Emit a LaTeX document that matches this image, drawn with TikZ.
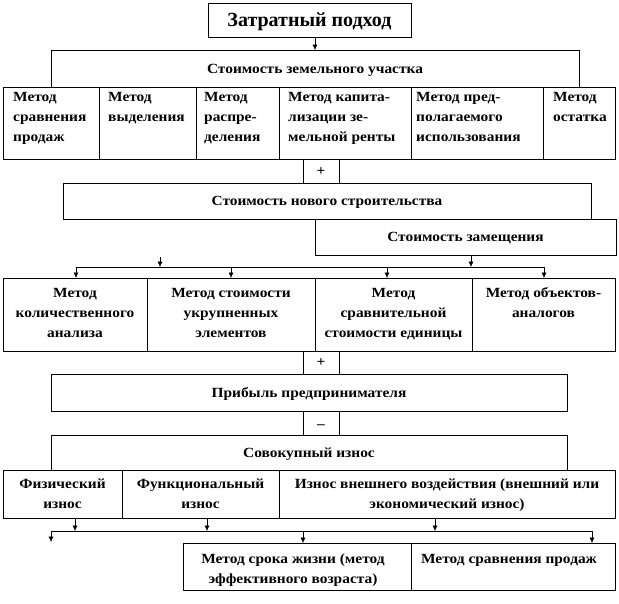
\documentclass[tikz,border=0pt]{standalone}
\usepackage{fontspec}
\setmainfont{Liberation Serif}[FakeStretch=1.1]
\newfontfamily\titlefam{Liberation Serif}
\usetikzlibrary{arrows.meta,calc}
\newcommand{\fs}{\fontsize{14}{20}\selectfont\bfseries}
\newcommand{\ftitle}{\titlefam\fontsize{20}{24}\selectfont\bfseries}
\newcommand{\fsign}{\fontsize{14}{16}\selectfont\bfseries}
\newcommand{\st}{\rule{0pt}{14pt}}
\begin{document}
\begin{tikzpicture}[x=1pt,y=-1pt,
  box/.style={draw, line width=0.6pt, inner sep=0pt, outer sep=0pt, anchor=north west},
  one/.style={font=\fs, text height=9.5pt, text depth=0pt},
  txt/.style={font=\fs, inner sep=0pt},
  arr/.style={-{Latex[length=5.5pt,width=5pt]}, line width=0.5pt},
  ln/.style={line width=0.5pt}]
\useasboundingbox (0,0) rectangle (619,603);

% top
\node[box, minimum width=203pt, minimum height=34pt, font=\ftitle, text height=13pt, text depth=0pt] (title) at (208,3) {Затратный подход};
\node[box, one, minimum width=528pt, minimum height=37pt] (land) at (51,50) {Стоимость земельного участка};

% row 1
\node[box, minimum width=96pt,  minimum height=72pt] (c1) at (3,87) {};
\node[box, minimum width=97pt,  minimum height=72pt] (c2) at (99,87) {};
\node[box, minimum width=83pt,  minimum height=72pt] (c3) at (196,87) {};
\node[box, minimum width=132pt, minimum height=72pt] (c4) at (279,87) {};
\node[box, minimum width=132pt, minimum height=72pt] (c5) at (411,87) {};
\node[box, minimum width=72pt,  minimum height=72pt] (c6) at (543,87) {};
\node[txt, anchor=north west, align=left] (t1) at ($(c1.north west)+(10,0)$) {\st Метод\\сравнения\\продаж};
\node[txt, anchor=north west, align=left] (t2) at ($(c2.north west)+(9,0)$) {\st Метод\\выделения};
\node[txt, anchor=north west, align=left] (t3) at ($(c3.north west)+(8,0)$) {\st Метод\\распре-\\деления};
\node[txt, anchor=north west, align=left] (t4) at ($(c4.north west)+(9,0)$) {\st Метод капита-\\лизации зе-\\мельной ренты};
\node[txt, anchor=north west, align=left] (t5) at ($(c5.north west)+(5,0)$) {\st Метод пред-\\полагаемого\\использования};
\node[txt, anchor=north west, align=left] (t6) at ($(c6.north west)+(10,0)$) {\st Метод\\остатка};

% plus 1
\node[box, minimum width=36pt, minimum height=24pt, font=\fsign, text height=8pt, text depth=0pt] (p1) at (303,159) {+};
\node[box, one, minimum width=528pt, minimum height=36pt] (newc) at (63,183) {Стоимость нового строительства};
\node[box, one, minimum width=301pt, minimum height=36pt] (repl) at (315,219) {Стоимость замещения};

% row 2
\node[box, minimum width=144pt, minimum height=73pt] (d1) at (3,278) {};
\node[box, minimum width=168pt, minimum height=73pt] (d2) at (147,278) {};
\node[box, minimum width=157pt, minimum height=73pt] (d3) at (315,278) {};
\node[box, minimum width=143pt, minimum height=73pt] (d4) at (472,278) {};
\node[txt, anchor=north, align=center] (u1) at ($(d1.north)+(0,5)$) {\st Метод\\количественного\\анализа};
\node[txt, anchor=north, align=center] (u2) at ($(d2.north)+(0,5)$) {\st Метод стоимости\\укрупненных\\элементов};
\node[txt, anchor=north, align=center] (u3) at ($(d3.north)+(0,5)$) {\st Метод\\сравнительной\\стоимости единицы};
\node[txt, anchor=north, align=center] (u4) at ($(d4.north)+(0,5)$) {\st Метод объектов-\\аналогов};

% plus 2, minus
\node[box, minimum width=36pt, minimum height=23pt, font=\fsign, text height=8pt, text depth=0pt] (p2) at (303,351) {+};
\node[box, one, minimum width=516pt, minimum height=37pt] (profit) at (51,374) {Прибыль предпринимателя};
\node[box, minimum width=36pt, minimum height=24pt, font=\fsign, text height=10pt, text depth=0pt] (m1) at (303,411) {–};
\node[box, one, minimum width=516pt, minimum height=35pt] (total) at (51,435) {Совокупный износ};

% wear row
\node[box, minimum width=119pt, minimum height=48pt] (w1) at (3,470) {};
\node[box, minimum width=157pt, minimum height=48pt] (w2) at (122,470) {};
\node[box, minimum width=336pt, minimum height=48pt] (w3) at (279,470) {};
\node[txt, anchor=north, align=center] (v1) at ($(w1.north)+(0,4)$) {\st Физический\\износ};
\node[txt, anchor=north, align=center] (v2) at ($(w2.north)+(0,4)$) {\st Функциональный\\износ};
\node[txt, anchor=north, align=center] (v3) at ($(w3.north)+(0,4)$) {\st Износ внешнего воздействия (внешний или\\экономический износ)};

% bottom row
\node[box, minimum width=228pt, minimum height=47pt] (b1) at (183,543) {};
\node[box, minimum width=204pt, minimum height=47pt] (b2) at (411,543) {};
\node[txt, anchor=north, align=center] (s1) at ($(b1.north)+(-4,6)$) {\st Метод срока жизни (метод\\эффективного возраста)};
\node[txt, anchor=north, align=center] (s2) at ($(b2.north)+(-4,6)$) {\st Метод сравнения продаж};

% connectors
\draw[arr] (land.north |- title.south) -- (land.north);

\coordinate (f1) at (160,257);
\coordinate (busL) at (76,267);
\coordinate (busR) at (544,267);
\coordinate (xr) at (471,0);
\coordinate (x2) at (231,0);
\coordinate (x3) at (387,0);
\draw[ln] (busL) -- (busR);
\draw[arr] (f1) -- (f1 |- busL);
\draw[arr] (xr |- repl.south) -- (xr |- busL);
\draw[arr] (busL) -- (busL |- d1.north);
\draw[arr] (x2 |- busL) -- (x2 |- d2.north);
\draw[arr] (x3 |- busL) -- (x3 |- d3.north);
\draw[arr] (busR) -- (busR |- d4.north);

\coordinate (wL) at (51,531);
\coordinate (wR) at (592,531);
\coordinate (wfree) at (51,542);
\coordinate (xw1) at (75,0);
\coordinate (xw2) at (207,0);
\coordinate (xw3) at (435,0);
\coordinate (xb1) at (303,0);
\draw[ln] (wL) -- (wR);
\draw[arr] (xw1 |- w1.south) -- (xw1 |- wL);
\draw[arr] (xw2 |- w2.south) -- (xw2 |- wL);
\draw[arr] (xw3 |- w3.south) -- (xw3 |- wL);
\draw[arr] (wL) -- (wfree);
\draw[arr] (xb1 |- wL) -- (xb1 |- b1.north);
\draw[arr] (wR) -- (wR |- b2.north);
\end{tikzpicture}
\end{document}
